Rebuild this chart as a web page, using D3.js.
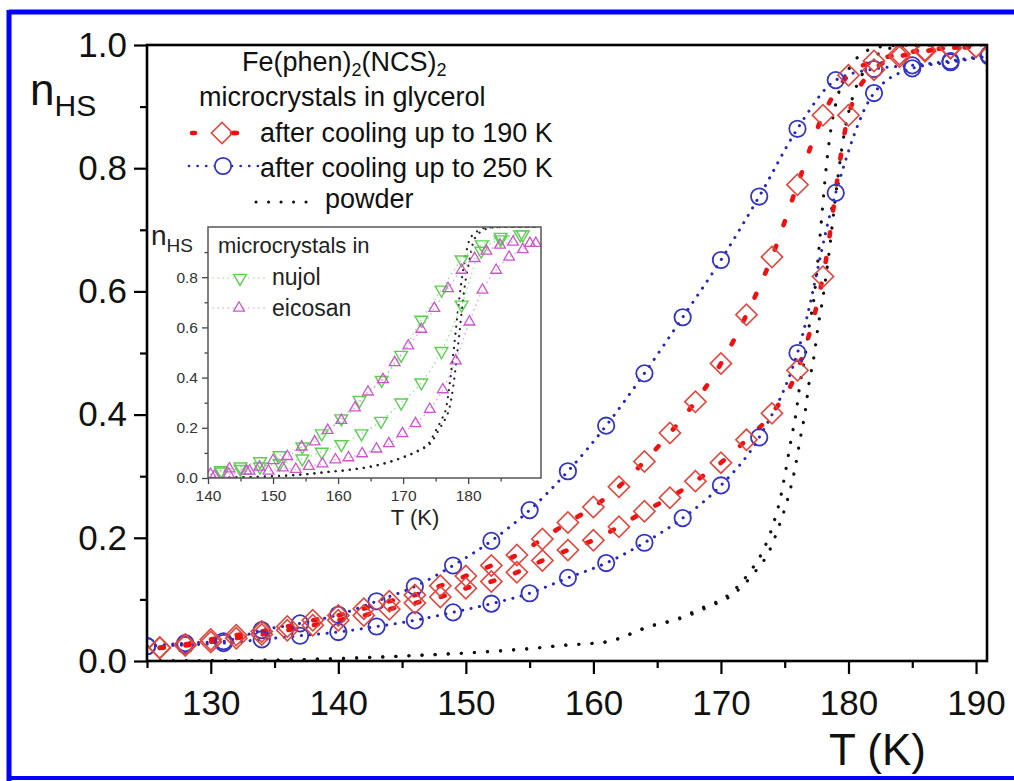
<!DOCTYPE html>
<html><head><meta charset="utf-8">
<script src="https://cdn.jsdelivr.net/npm/d3@7"></script>
<style>
html,body{margin:0;padding:0;background:#fff;}
svg{display:block;font-family:"Liberation Sans",Arial,sans-serif;}
</style></head>
<body>
<svg id="chart" width="1014" height="781"></svg>
<script>
// ---------- DATA (main chart) ----------
const xTicksMain = [130,140,150,160,170,180,190];
const xMinorMain = [125,135,145,155,165,175,185];
const yTicksMain = [0,0.2,0.4,0.6,0.8,1.0];
const yMinorMain = [0.1,0.3,0.5,0.7,0.9];

// after cooling up to 190 K (red diamonds), two branches
const redT = [126,128,130,132,134,136,138,140,142,144,146,148,150,152,154,156,158,160,162,164,166,168,170,172,174,176,178,180,182,184,186,188,190];
const redUpper = [0.022,0.027,0.035,0.042,0.048,0.056,0.066,0.074,0.085,0.097,0.107,0.122,0.138,0.155,0.172,0.198,0.225,0.25,0.283,0.324,0.37,0.421,0.483,0.562,0.656,0.773,0.886,0.951,0.974,0.985,0.992,0.995,0.997];
const redLower = [0.021,0.025,0.031,0.037,0.043,0.05,0.058,0.066,0.074,0.084,0.094,0.104,0.118,0.129,0.144,0.163,0.18,0.196,0.218,0.243,0.265,0.292,0.322,0.359,0.402,0.472,0.624,0.886,0.96,0.981,0.99,0.995,0.997];

// after cooling up to 250 K (blue circles), two branches
const blueT = [125,128,131,134,137,140,143,146,149,152,155,158,161,164,167,170,173,176,179,182,185,188,191];
const blueUpper = [0.024,0.029,0.032,0.05,0.061,0.075,0.097,0.121,0.155,0.195,0.245,0.308,0.382,0.467,0.558,0.651,0.754,0.864,0.943,0.961,0.967,0.974,0.984];
const blueLower = [0.024,0.026,0.029,0.035,0.041,0.047,0.056,0.066,0.079,0.093,0.11,0.135,0.159,0.192,0.232,0.285,0.363,0.5,0.76,0.922,0.962,0.972,0.982];

// powder (black dotted), two branches
const powderT1 = [125,135,140,145,150,155,158,161,164.5,166.5,168.5,170.7,172.2,173.3,174.1,174.7,175.1,175.5,175.9,176.2,176.6,176.9,177.3,177.6,177.9,178.2,178.6,179.2,180,181,182.5,185,191];
const powderN1 = [0,0.0015,0.004,0.008,0.013,0.02,0.026,0.031,0.057,0.068,0.086,0.109,0.143,0.179,0.222,0.268,0.312,0.359,0.404,0.45,0.495,0.541,0.59,0.65,0.72,0.79,0.86,0.92,0.96,0.985,0.997,1,1];
const powderT2 = [125,135,140,145,150,155,158,161,164.6,166.7,168.8,171.0,172.6,173.8,174.6,175.3,175.8,176.2,176.6,176.9,177.3,177.6,178.0,178.4,178.8,179.2,179.7,180.4,181.3,182.3,183.8,186,191];
const powderN2 = [0,0.0015,0.004,0.008,0.013,0.02,0.026,0.031,0.057,0.068,0.086,0.109,0.143,0.179,0.222,0.268,0.312,0.359,0.404,0.45,0.495,0.541,0.59,0.65,0.72,0.79,0.86,0.92,0.96,0.985,0.997,1,1];

// ---------- DATA (inset) ----------
const xTicksInset = [140,150,160,170,180];
const xMinorInset = [145,155,165,175,185];
const yTicksInset = [0,0.2,0.4,0.6,0.8];
const yMinorInset = [0.1,0.3,0.5,0.7,0.9];

const nujolT1 = [142,145,148,151,154.5,157.5,160.5,163.3,166.7,169.7,172.8,175.9,179,182.1,185,188.4];
const nujolN1 = [0.03,0.045,0.066,0.09,0.125,0.177,0.237,0.31,0.39,0.49,0.63,0.75,0.87,0.93,0.96,0.97];
const nujolT2 = [142,145,148,151,154.5,157.5,160.5,163.6,166.6,169.7,172.8,175.9,179,182,185,188];
const nujolN2 = [0.025,0.035,0.045,0.058,0.077,0.104,0.134,0.177,0.227,0.30,0.38,0.505,0.69,0.905,0.95,0.97];

const eicoT1 = [140.4,143.3,145.9,147.9,150,152.2,154.4,156.4,158.4,160.5,162.6,164.6,166.9,168.7,170.8,172.8,174.8,176.9,179,181,182.8,184.9,186.9,189.5];
const eicoN1 = [0.015,0.037,0.028,0.044,0.07,0.086,0.124,0.144,0.19,0.23,0.28,0.343,0.392,0.46,0.527,0.593,0.676,0.755,0.828,0.875,0.904,0.928,0.94,0.935];
const eicoT2 = [141,143.2,146.4,149.3,151.5,153.5,155.5,157.6,159.6,161.6,163.7,165.9,167.8,169.9,171.9,174.1,176.1,178.1,180.2,182.2,184.3,186.3,188.4,190.4];
const eicoN2 = [0.008,0.015,0.028,0.028,0.041,0.035,0.047,0.057,0.073,0.081,0.097,0.116,0.137,0.177,0.217,0.274,0.352,0.467,0.622,0.749,0.828,0.88,0.91,0.935];

const inPowT1 = [140,145,150,155.1,158.5,161.8,165.9,169.8,172.3,174.1,175,176,176.6,177.1,177.6,178,178.4,178.9,179.4,180.2,181.5,183,186,191];
const inPowN1 = [0,0.003,0.007,0.015,0.024,0.033,0.05,0.081,0.11,0.144,0.188,0.237,0.277,0.363,0.469,0.5625,0.662,0.769,0.855,0.948,0.985,0.998,1,1];
const inPowT2 = [140,145,150,155.1,158.5,161.8,165.9,169.9,172.5,174.4,175.4,176.5,177.1,177.7,178.2,178.6,179.0,179.5,180.1,180.9,182.2,183.8,186.5,191];
const inPowN2 = [0,0.003,0.007,0.015,0.024,0.033,0.05,0.081,0.11,0.144,0.188,0.237,0.277,0.363,0.469,0.5625,0.662,0.769,0.855,0.948,0.985,0.998,1,1];

// ---------- DRAW ----------
const svg = d3.select("#chart");
const zip = (T, N) => T.map((t, i) => [t, N[i]]);

// blue frame of picture
svg.append("line").attr("x1",9).attr("x2",1014).attr("y1",12).attr("y2",12).attr("stroke","#0000ff").attr("stroke-width",5);
svg.append("line").attr("x1",9).attr("x2",9).attr("y1",10).attr("y2",781).attr("stroke","#0000ff").attr("stroke-width",5);
svg.append("line").attr("x1",9).attr("x2",1014).attr("y1",778).attr("y2",778).attr("stroke","#0000ff").attr("stroke-width",4);

const x = d3.scaleLinear().domain([125,190.86]).range([147,987]);
const y = d3.scaleLinear().domain([0,1]).range([661,45]);

// axes
const gx = svg.append("g").attr("transform","translate(0,661)")
  .call(d3.axisBottom(x).tickValues(xTicksMain).tickSize(13).tickPadding(16).tickFormat(d3.format("d")));
const gxm = svg.append("g").attr("transform","translate(0,661)")
  .call(d3.axisBottom(x).tickValues(xMinorMain).tickSize(7).tickFormat(""));
const gy = svg.append("g").attr("transform","translate(147,0)")
  .call(d3.axisLeft(y).tickValues(yTicksMain).tickSize(13).tickPadding(7).tickFormat(d3.format(".1f")));
const gym = svg.append("g").attr("transform","translate(147,0)")
  .call(d3.axisLeft(y).tickValues(yMinorMain).tickSize(7).tickFormat(""));
[gx,gxm,gy,gym].forEach(g=>{
  g.select(".domain").remove();
  g.selectAll("line").attr("stroke","#000").attr("stroke-width",2.2);
  g.selectAll("text").attr("font-size",35).attr("fill","#111").attr("font-family","Liberation Sans, Arial, sans-serif");
});

// clip
svg.append("clipPath").attr("id","clipMain").append("rect")
  .attr("x",147).attr("y",45).attr("width",840).attr("height",616);
const plot = svg.append("g").attr("clip-path","url(#clipMain)");

const line = d3.line().x(d=>x(d[0])).y(d=>y(d[1])).curve(d3.curveMonotoneX);

// powder
[zip(powderT1,powderN1), zip(powderT2,powderN2)].forEach(dat=>{
  plot.append("path").attr("d",line(dat)).attr("fill","none")
    .attr("stroke","#111").attr("stroke-width",3.2).attr("stroke-linecap","round")
    .attr("stroke-dasharray","0.1,13");
});
// blue lines
[zip(blueT,blueUpper), zip(blueT,blueLower)].forEach(dat=>{
  plot.append("path").attr("d",line(dat)).attr("fill","none")
    .attr("stroke","#2626b8").attr("stroke-width",3).attr("stroke-linecap","round")
    .attr("stroke-dasharray","0.1,8.5");
});
// red lines
[zip(redT,redUpper), zip(redT,redLower)].forEach(dat=>{
  plot.append("path").attr("d",line(dat)).attr("fill","none")
    .attr("stroke","#ee1111").attr("stroke-width",4.6).attr("stroke-linecap","round")
    .attr("stroke-dasharray","4,22");
});
// blue circles
[zip(blueT,blueUpper), zip(blueT,blueLower)].forEach(dat=>{
  plot.append("g").selectAll("circle").data(dat).join("circle")
    .attr("cx",d=>x(d[0])).attr("cy",d=>y(d[1])).attr("r",8.2)
    .attr("fill","none").attr("stroke","#3434c4").attr("stroke-width",1.8);
});
// red diamonds
const diamond = d3.symbol().type(d3.symbolSquare).size(225);
[zip(redT,redUpper), zip(redT,redLower)].forEach(dat=>{
  plot.append("g").selectAll("path").data(dat).join("path")
    .attr("d",diamond())
    .attr("transform",d=>`translate(${x(d[0])},${y(d[1])}) rotate(45)`)
    .attr("fill","none").attr("stroke","#e2463c").attr("stroke-width",1.6);
});

// frame
svg.append("rect").attr("x",147).attr("y",45).attr("width",840).attr("height",616)
  .attr("fill","none").attr("stroke","#000").attr("stroke-width",2.6);

// axis titles
const yt = svg.append("text").attr("x",30).attr("y",105).attr("font-size",44).attr("fill","#111");
yt.append("tspan").text("n");
yt.append("tspan").attr("font-size",30).attr("dy",11).text("HS");
svg.append("text").attr("x",829).attr("y",765).attr("font-size",44).attr("fill","#111").text("T (K)");

// legend
const lg = svg.append("g").attr("font-size",27).attr("fill","#111");
const t1 = lg.append("text").attr("x",242).attr("y",71);
t1.append("tspan").text("Fe(phen)");
t1.append("tspan").attr("font-size",18).attr("dy",5).text("2");
t1.append("tspan").attr("dy",-5).text("(NCS)");
t1.append("tspan").attr("font-size",18).attr("dy",5).text("2");
lg.append("text").attr("x",199).attr("y",106).text("microcrystals in glycerol");
lg.append("text").attr("x",260).attr("y",142).text("after cooling up to 190 K");
lg.append("text").attr("x",260).attr("y",177).text("after cooling up to 250 K");
lg.append("text").attr("x",325).attr("y",208).text("powder");
// legend samples
lg.append("line").attr("x1",192).attr("x2",245).attr("y1",133).attr("y2",133)
  .attr("stroke","#ee1111").attr("stroke-width",4.6).attr("stroke-linecap","round").attr("stroke-dasharray","3,37");
lg.append("path").attr("d",diamond()).attr("transform","translate(222,133) rotate(45)")
  .attr("fill","none").attr("stroke","#e2463c").attr("stroke-width",1.6);
lg.append("line").attr("x1",234).attr("x2",237).attr("y1",133).attr("y2",133)
  .attr("stroke","#ee1111").attr("stroke-width",4.6).attr("stroke-linecap","round");
lg.append("line").attr("x1",189).attr("x2",258).attr("y1",166).attr("y2",166)
  .attr("stroke","#2626b8").attr("stroke-width",2.6).attr("stroke-linecap","round").attr("stroke-dasharray","0.1,8.5");
lg.append("circle").attr("cx",223).attr("cy",166).attr("r",8.2).attr("fill","#fff").attr("stroke","#3434c4").attr("stroke-width",1.8);
lg.append("line").attr("x1",256).attr("x2",318).attr("y1",202).attr("y2",202)
  .attr("stroke","#111").attr("stroke-width",3).attr("stroke-linecap","round").attr("stroke-dasharray","0.1,12.4");

// ---------- INSET ----------
const xi = d3.scaleLinear().domain([140,191.2]).range([208,541]);
const yi = d3.scaleLinear().domain([0,1.0]).range([478,227]);
const inset = svg.append("g");
inset.append("rect").attr("x",208).attr("y",227).attr("width",333).attr("height",251).attr("fill","#fff");

const gix = inset.append("g").attr("transform","translate(0,478)")
  .call(d3.axisBottom(xi).tickValues(xTicksInset).tickSize(6).tickPadding(6).tickFormat(d3.format("d")));
const gixm = inset.append("g").attr("transform","translate(0,478)")
  .call(d3.axisBottom(xi).tickValues(xMinorInset).tickSize(3.5).tickFormat(""));
const giy = inset.append("g").attr("transform","translate(208,0)")
  .call(d3.axisLeft(yi).tickValues(yTicksInset).tickSize(6).tickPadding(4).tickFormat(d3.format(".1f")));
const giym = inset.append("g").attr("transform","translate(208,0)")
  .call(d3.axisLeft(yi).tickValues(yMinorInset).tickSize(3.5).tickFormat(""));
[gix,gixm,giy,giym].forEach(g=>{
  g.select(".domain").remove();
  g.selectAll("line").attr("stroke","#444").attr("stroke-width",1.3);
  g.selectAll("text").attr("font-size",15.5).attr("fill","#333").attr("font-family","Liberation Sans, Arial, sans-serif");
});

inset.append("clipPath").attr("id","clipInset").append("rect")
  .attr("x",208).attr("y",227).attr("width",333).attr("height",251);
const ip = inset.append("g").attr("clip-path","url(#clipInset)");
const lineI = d3.line().x(d=>xi(d[0])).y(d=>yi(d[1])).curve(d3.curveMonotoneX);

[zip(inPowT1,inPowN1), zip(inPowT2,inPowN2)].forEach(dat=>{
  ip.append("path").attr("d",lineI(dat)).attr("fill","none")
    .attr("stroke","#222").attr("stroke-width",2.2).attr("stroke-linecap","round").attr("stroke-dasharray","0.1,7");
});
[zip(nujolT1,nujolN1), zip(nujolT2,nujolN2)].forEach(dat=>{
  ip.append("path").attr("d",lineI(dat)).attr("fill","none")
    .attr("stroke","#9fe39f").attr("stroke-width",1.6).attr("stroke-linecap","round").attr("stroke-dasharray","0.1,5");
});
[zip(eicoT1,eicoN1), zip(eicoT2,eicoN2)].forEach(dat=>{
  ip.append("path").attr("d",lineI(dat)).attr("fill","none")
    .attr("stroke","#e6a6e6").attr("stroke-width",1.6).attr("stroke-linecap","round").attr("stroke-dasharray","0.1,5");
});
const triDown = d3.symbol().type(d3.symbolTriangle).size(70);
const triUp = d3.symbol().type(d3.symbolTriangle).size(50);
[zip(nujolT1,nujolN1), zip(nujolT2,nujolN2)].forEach(dat=>{
  ip.append("g").selectAll("path").data(dat).join("path")
    .attr("d",triDown()).attr("transform",d=>`translate(${xi(d[0])},${yi(d[1])}) rotate(180)`)
    .attr("fill","none").attr("stroke","#5ccf52").attr("stroke-width",1.4);
});
[zip(eicoT1,eicoN1), zip(eicoT2,eicoN2)].forEach(dat=>{
  ip.append("g").selectAll("path").data(dat).join("path")
    .attr("d",triUp()).attr("transform",d=>`translate(${xi(d[0])},${yi(d[1])})`)
    .attr("fill","none").attr("stroke","#cc55cc").attr("stroke-width",1.3);
});
inset.append("rect").attr("x",208).attr("y",227).attr("width",333).attr("height",251)
  .attr("fill","none").attr("stroke","#555").attr("stroke-width",1.5);

// inset titles
const iyt = inset.append("text").attr("x",151).attr("y",245).attr("font-size",28).attr("fill","#222");
iyt.append("tspan").text("n");
iyt.append("tspan").attr("font-size",19).attr("dy",7).text("HS");
inset.append("text").attr("x",415).attr("y",525).attr("text-anchor","middle").attr("font-size",22).attr("fill","#222").text("T (K)");

// inset legend
const il = inset.append("g").attr("fill","#222");
il.append("text").attr("x",218).attr("y",253).attr("font-size",22).text("microcrystals in");
il.append("line").attr("x1",213).attr("x2",266).attr("y1",278).attr("y2",278)
  .attr("stroke","#9fe39f").attr("stroke-width",1.6).attr("stroke-linecap","round").attr("stroke-dasharray","0.1,5");
il.append("path").attr("d",triDown()).attr("transform","translate(240,278) rotate(180)")
  .attr("fill","#fff").attr("stroke","#5ccf52").attr("stroke-width",1.4);
il.append("text").attr("x",272).attr("y",285).attr("font-size",23).text("nujol");
il.append("line").attr("x1",213).attr("x2",266).attr("y1",308).attr("y2",308)
  .attr("stroke","#e6a6e6").attr("stroke-width",1.6).attr("stroke-linecap","round").attr("stroke-dasharray","0.1,5");
il.append("path").attr("d",triUp()).attr("transform","translate(239,308)")
  .attr("fill","#fff").attr("stroke","#cc55cc").attr("stroke-width",1.3);
il.append("text").attr("x",272).attr("y",316).attr("font-size",23).text("eicosan");
</script>
</body></html>
